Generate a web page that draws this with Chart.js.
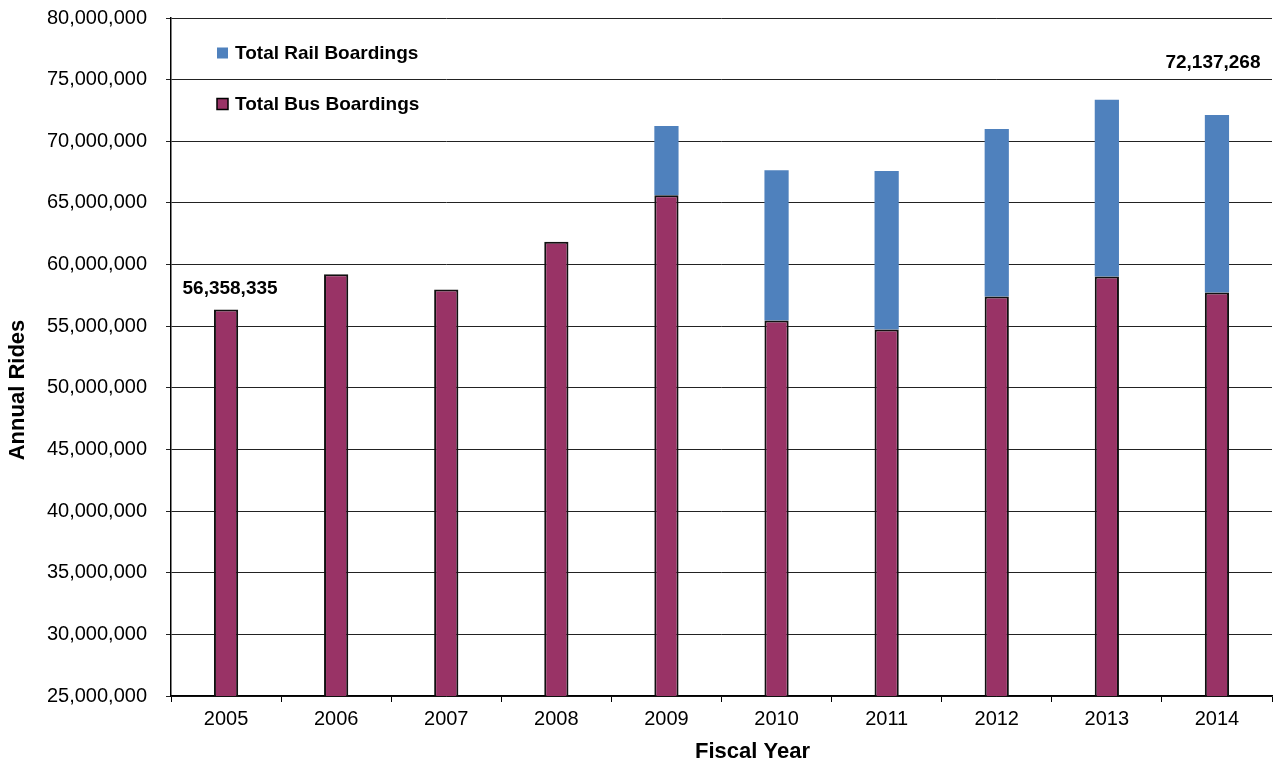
<!DOCTYPE html>
<html>
<head>
<meta charset="utf-8">
<title>Annual Rides by Fiscal Year</title>
<script src="https://cdn.jsdelivr.net/npm/chart.js@4.4.1/dist/chart.umd.min.js"></script>
<style>
  html, body { margin: 0; padding: 0; background: #fff; }
  #chart { display: block; }
</style>
</head>
<body>
<canvas id="chart" width="1275" height="767"></canvas>
<script>
// Data
const years = ['2005', '2006', '2007', '2008', '2009', '2010', '2011', '2012', '2013', '2014'];
const busRides = [56358335, 59220000, 57980000, 61850000, 65630000, 55460000, 54730000, 57410000, 59030000, 57730000];
const railRides = [null, null, null, null, 5600000, 12180000, 12860000, 13580000, 14340000, 14407268];
const busColor = '#993366';
const railColor = '#4F81BD';

const FONT = '"Liberation Sans", Arial, Helvetica, sans-serif';
Chart.defaults.font.family = FONT;
Chart.defaults.color = '#000';

const fmt = v => Number(v).toLocaleString('en-US');

// Legend, value labels and axis titles drawn inside the canvas
const annotations = {
    id: 'annotations',
    afterDatasetsDraw(chart) {
        const ctx = chart.ctx;
        const area = chart.chartArea;
        const x = chart.scales.x;
        const y = chart.scales.y;
        ctx.save();

        // legend (rail on top, bus below)
        ctx.font = 'bold 19px ' + FONT;
        ctx.textBaseline = 'middle';
        ctx.textAlign = 'left';
        const items = [
            { text: 'Total Rail Boardings', color: railColor, border: false, dy: 35 },
            { text: 'Total Bus Boardings', color: busColor, border: true, dy: 86 }
        ];
        items.forEach(item => {
            const sx = area.left + 46;
            const sy = area.top + item.dy;
            ctx.fillStyle = item.color;
            ctx.fillRect(sx, sy - 5.5, 11, 11);
            if (item.border) {
                ctx.strokeStyle = '#000';
                ctx.lineWidth = 1.5;
                ctx.strokeRect(sx, sy - 5.5, 11, 11);
            }
            ctx.fillStyle = '#000';
            ctx.fillText(item.text, sx + 18, sy + 1);
        });

        // value labels on first and last year
        ctx.textAlign = 'center';
        const first = busRides[0];
        ctx.fillText(fmt(first), x.getPixelForValue(0) + 4, y.getPixelForValue(first) - 21);
        const last = years.length - 1;
        const lastTotal = busRides[last] + (railRides[last] || 0);
        ctx.fillText(fmt(lastTotal), x.getPixelForValue(last) - 4, y.getPixelForValue(lastTotal) - 52);

        // axis titles
        ctx.font = 'bold 22px ' + FONT;
        ctx.fillText('Fiscal Year', (area.left + area.right) / 2 + 31, 752);
        ctx.translate(18, (area.top + area.bottom) / 2 + 33);
        ctx.rotate(-Math.PI / 2);
        ctx.fillText('Annual Rides', 0, 0);
        ctx.restore();
    }
};

new Chart(document.getElementById('chart'), {
    type: 'bar',
    data: {
        labels: years,
        datasets: [
            {
                label: 'Total Bus Boardings',
                data: busRides,
                backgroundColor: busColor,
                borderColor: '#111',
                borderWidth: 2,
                borderSkipped: false
            },
            {
                label: 'Total Rail Boardings',
                data: railRides,
                backgroundColor: railColor,
                borderWidth: 0
            }
        ]
    },
    options: {
        responsive: false,
        animation: false,
        layout: { padding: { top: 18, right: 3, left: 0, bottom: 0 } },
        datasets: {
            bar: { categoryPercentage: 1, barPercentage: 0.22 }
        },
        plugins: {
            legend: { display: false },
            tooltip: { enabled: false }
        },
        scales: {
            x: {
                stacked: true,
                grid: {
                    offset: true,
                    drawOnChartArea: false,
                    drawTicks: true,
                    tickLength: 6,
                    color: '#000'
                },
                border: { color: '#000', width: 1.5 },
                ticks: { font: { size: 20 }, padding: 5, maxRotation: 0 },
                afterFit(scale) {
                    scale.height = 71;
                    scale.paddingLeft = 0;
                    scale.paddingRight = 0;
                }
            },
            y: {
                stacked: true,
                min: 25000000,
                max: 80000000,
                grid: {
                    color: '#222',
                    lineWidth: 1,
                    tickLength: 5
                },
                border: { color: '#000', width: 1.5 },
                ticks: {
                    stepSize: 5000000,
                    font: { size: 20 },
                    padding: 19,
                    callback: v => fmt(v)
                },
                afterFit(scale) {
                    scale.width = 171;
                    scale.paddingTop = 0;
                    scale.paddingBottom = 0;
                }
            }
        }
    },
    plugins: [annotations]
});
</script>
</body>
</html>
